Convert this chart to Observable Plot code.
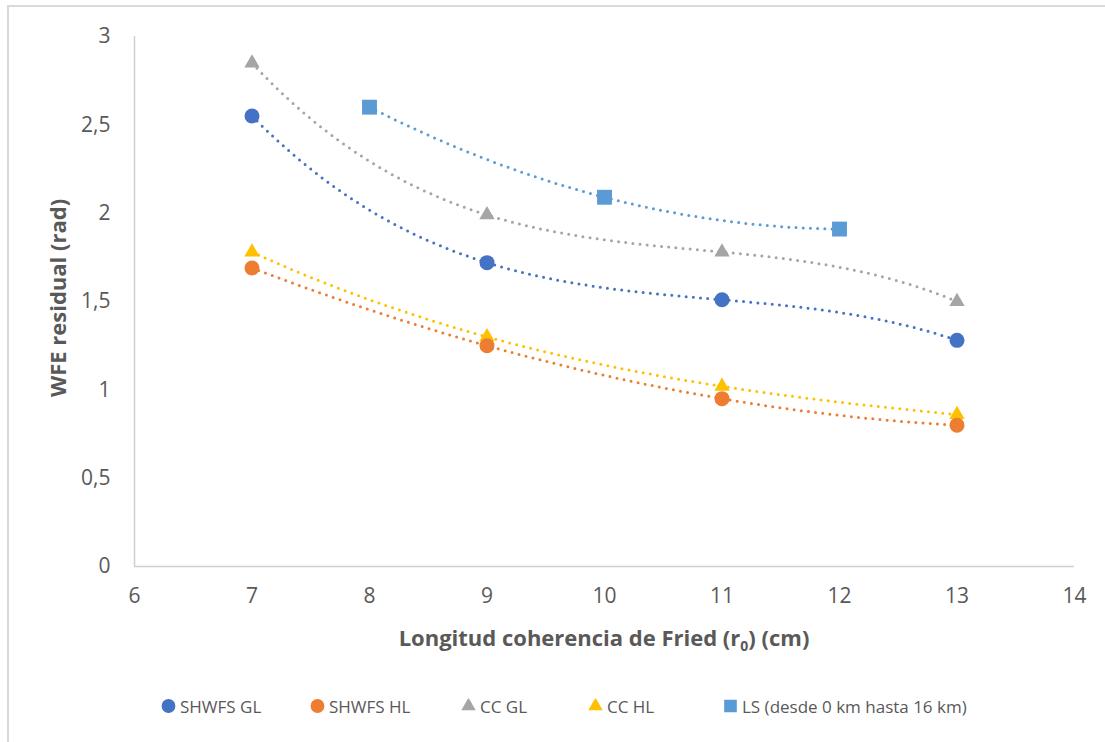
<!DOCTYPE html>
<html>
<head>
<meta charset="utf-8">
<script src="https://cdn.jsdelivr.net/npm/d3@7"></script>
<script src="https://cdn.jsdelivr.net/npm/@observablehq/plot@0.6"></script>
<style>
  html, body { margin: 0; padding: 0; background: #fff; overflow: hidden; }
  #wrap { position: relative; width: 1105px; height: 742px; font-family: "Open Sans", sans-serif; color: #595959; }
  #frame { position: absolute; left: 7px; top: 5px; width: 1200px; height: 800px; border-left: 2px solid #D9D9D9; border-top: 2px solid #D9D9D9; box-sizing: border-box; }
  #chart { position: absolute; left: 0; top: 0; }
  #chart svg text { font-size: 21px; }
  .ytitle { position: absolute; left: 57px; top: 298px; transform: translate(-50%, -50%) rotate(-90deg); font-weight: bold; font-size: 22px; white-space: nowrap; }
  .xtitle { position: absolute; left: 604px; top: 637px; transform: translate(-50%, -50%); font-weight: bold; font-size: 22px; white-space: nowrap; }
  .xtitle sub { font-size: 14px; vertical-align: -5px; line-height: 0; }
  #legend { position: absolute; left: 0; top: 706px; font-size: 17px; white-space: nowrap; }
  .item { position: absolute; display: flex; align-items: center; transform: translateY(-50%); }
  .item svg { margin-right: 4px; }
</style>
</head>
<body>
<div id="wrap">
  <div id="frame"></div>
  <div id="chart"></div>
  <div class="ytitle">WFE residual (rad)</div>
  <div class="xtitle">Longitud coherencia de Fried (r<sub>0</sub>) (cm)</div>
  <div id="legend"></div>
</div>
<script>
// ---- data ----
const xTicks = [6, 7, 8, 9, 10, 11, 12, 13, 14];
const yTicks = [0, 0.5, 1, 1.5, 2, 2.5, 3];
const r0Main = [7, 9, 11, 13];
const r0LS = [8, 10, 12];
const shwfsGL = [2.55, 1.72, 1.51, 1.28];
const shwfsHL = [1.69, 1.25, 0.95, 0.80];
const ccGL = [2.85, 1.99, 1.78, 1.50];
const ccHL = [1.78, 1.30, 1.02, 0.86];
const lsVals = [2.60, 2.09, 1.91];
const seriesNames = ["SHWFS GL", "SHWFS HL", "CC GL", "CC HL", "LS (desde 0 km hasta 16 km)"];

// ---- styles ----
const series = [
  { name: seriesNames[0], xs: r0Main, ys: shwfsGL, color: "#4472C4", symbol: "circle", r: 7.5 },
  { name: seriesNames[1], xs: r0Main, ys: shwfsHL, color: "#ED7D31", symbol: "circle", r: 7.5 },
  { name: seriesNames[2], xs: r0Main, ys: ccGL, color: "#A5A5A5", symbol: "triangle", r: 5.7 },
  { name: seriesNames[3], xs: r0Main, ys: ccHL, color: "#FFC000", symbol: "triangle", r: 5.7 },
  { name: seriesNames[4], xs: r0LS, ys: lsVals, color: "#5B9BD5", symbol: "square", r: 8.4 }
];
const legendLeft = [161, 310, 461, 588, 723];

// polynomial trendline (order n-1) drawn as a curve through the scaled points
function polyCurve(context) {
  let pts = [];
  return {
    areaStart() {}, areaEnd() {},
    lineStart() { pts = []; },
    point(x, y) { pts.push([+x, +y]); },
    lineEnd() {
      const n = pts.length;
      if (!n) return;
      const a = pts[0][0], b = pts[n - 1][0];
      const steps = 300;
      for (let i = 0; i <= steps; i++) {
        const x = a + (b - a) * i / steps;
        let y = 0;
        for (let j = 0; j < n; j++) {
          let L = 1;
          for (let k = 0; k < n; k++) if (k !== j) L *= (x - pts[k][0]) / (pts[j][0] - pts[k][0]);
          y += L * pts[j][1];
        }
        if (i === 0) context.moveTo(x, y); else context.lineTo(x, y);
      }
    }
  };
}

const fmt = d => String(d).replace(".", ",");

const marks = [
  Plot.ruleY([0], { stroke: "#D0D0D0", strokeWidth: 1.5 }),
  Plot.ruleX([6], { stroke: "#D0D0D0", strokeWidth: 1.5 }),
  Plot.axisY({ ticks: yTicks, tickSize: 0, tickPadding: 24, tickFormat: fmt, label: null, fontSize: 21 }),
  Plot.axisX({ ticks: xTicks, tickSize: 0, tickPadding: 22, tickFormat: fmt, label: null, fontSize: 21 })
];

const rowsOf = s => s.xs.map((x, i) => ({ x, y: s.ys[i] }));

for (const s of series) {
  marks.push(Plot.line(rowsOf(s), {
    x: "x", y: "y", stroke: s.color, strokeWidth: 3,
    strokeDasharray: "0 7.2", strokeLinecap: "round", curve: polyCurve
  }));
}
for (const s of series.slice().reverse()) {
  marks.push(Plot.dot(rowsOf(s), { x: "x", y: "y", r: s.r, symbol: s.symbol, fill: s.color, stroke: "none" }));
}

const chart = Plot.plot({
  width: 1105,
  height: 660,
  marginLeft: 134,
  marginRight: 31,
  marginTop: 36,
  marginBottom: 94,
  style: { fontFamily: "Open Sans, sans-serif", fontSize: "21px", color: "#595959", background: "transparent", overflow: "visible" },
  x: { domain: [6, 14] },
  y: { domain: [0, 3] },
  marks
});
document.getElementById("chart").appendChild(chart);

// legend
const legend = document.getElementById("legend");
series.forEach((s, i) => {
  const item = document.createElement("div");
  item.className = "item";
  item.style.left = legendLeft[i] + "px";
  const size = 15;
  const sym = d3.symbol(s.symbol === "circle" ? d3.symbolCircle : s.symbol === "triangle" ? d3.symbolTriangle : d3.symbolSquare,
    s.symbol === "triangle" ? 90 : s.symbol === "square" ? 160 : 150)();
  item.innerHTML = `<svg width="${size}" height="${size}" viewBox="${-size/2} ${-size/2} ${size} ${size}"><path d="${sym}" fill="${s.color}"/></svg><span>${s.name}</span>`;
  legend.appendChild(item);
});
</script>
</body>
</html>
